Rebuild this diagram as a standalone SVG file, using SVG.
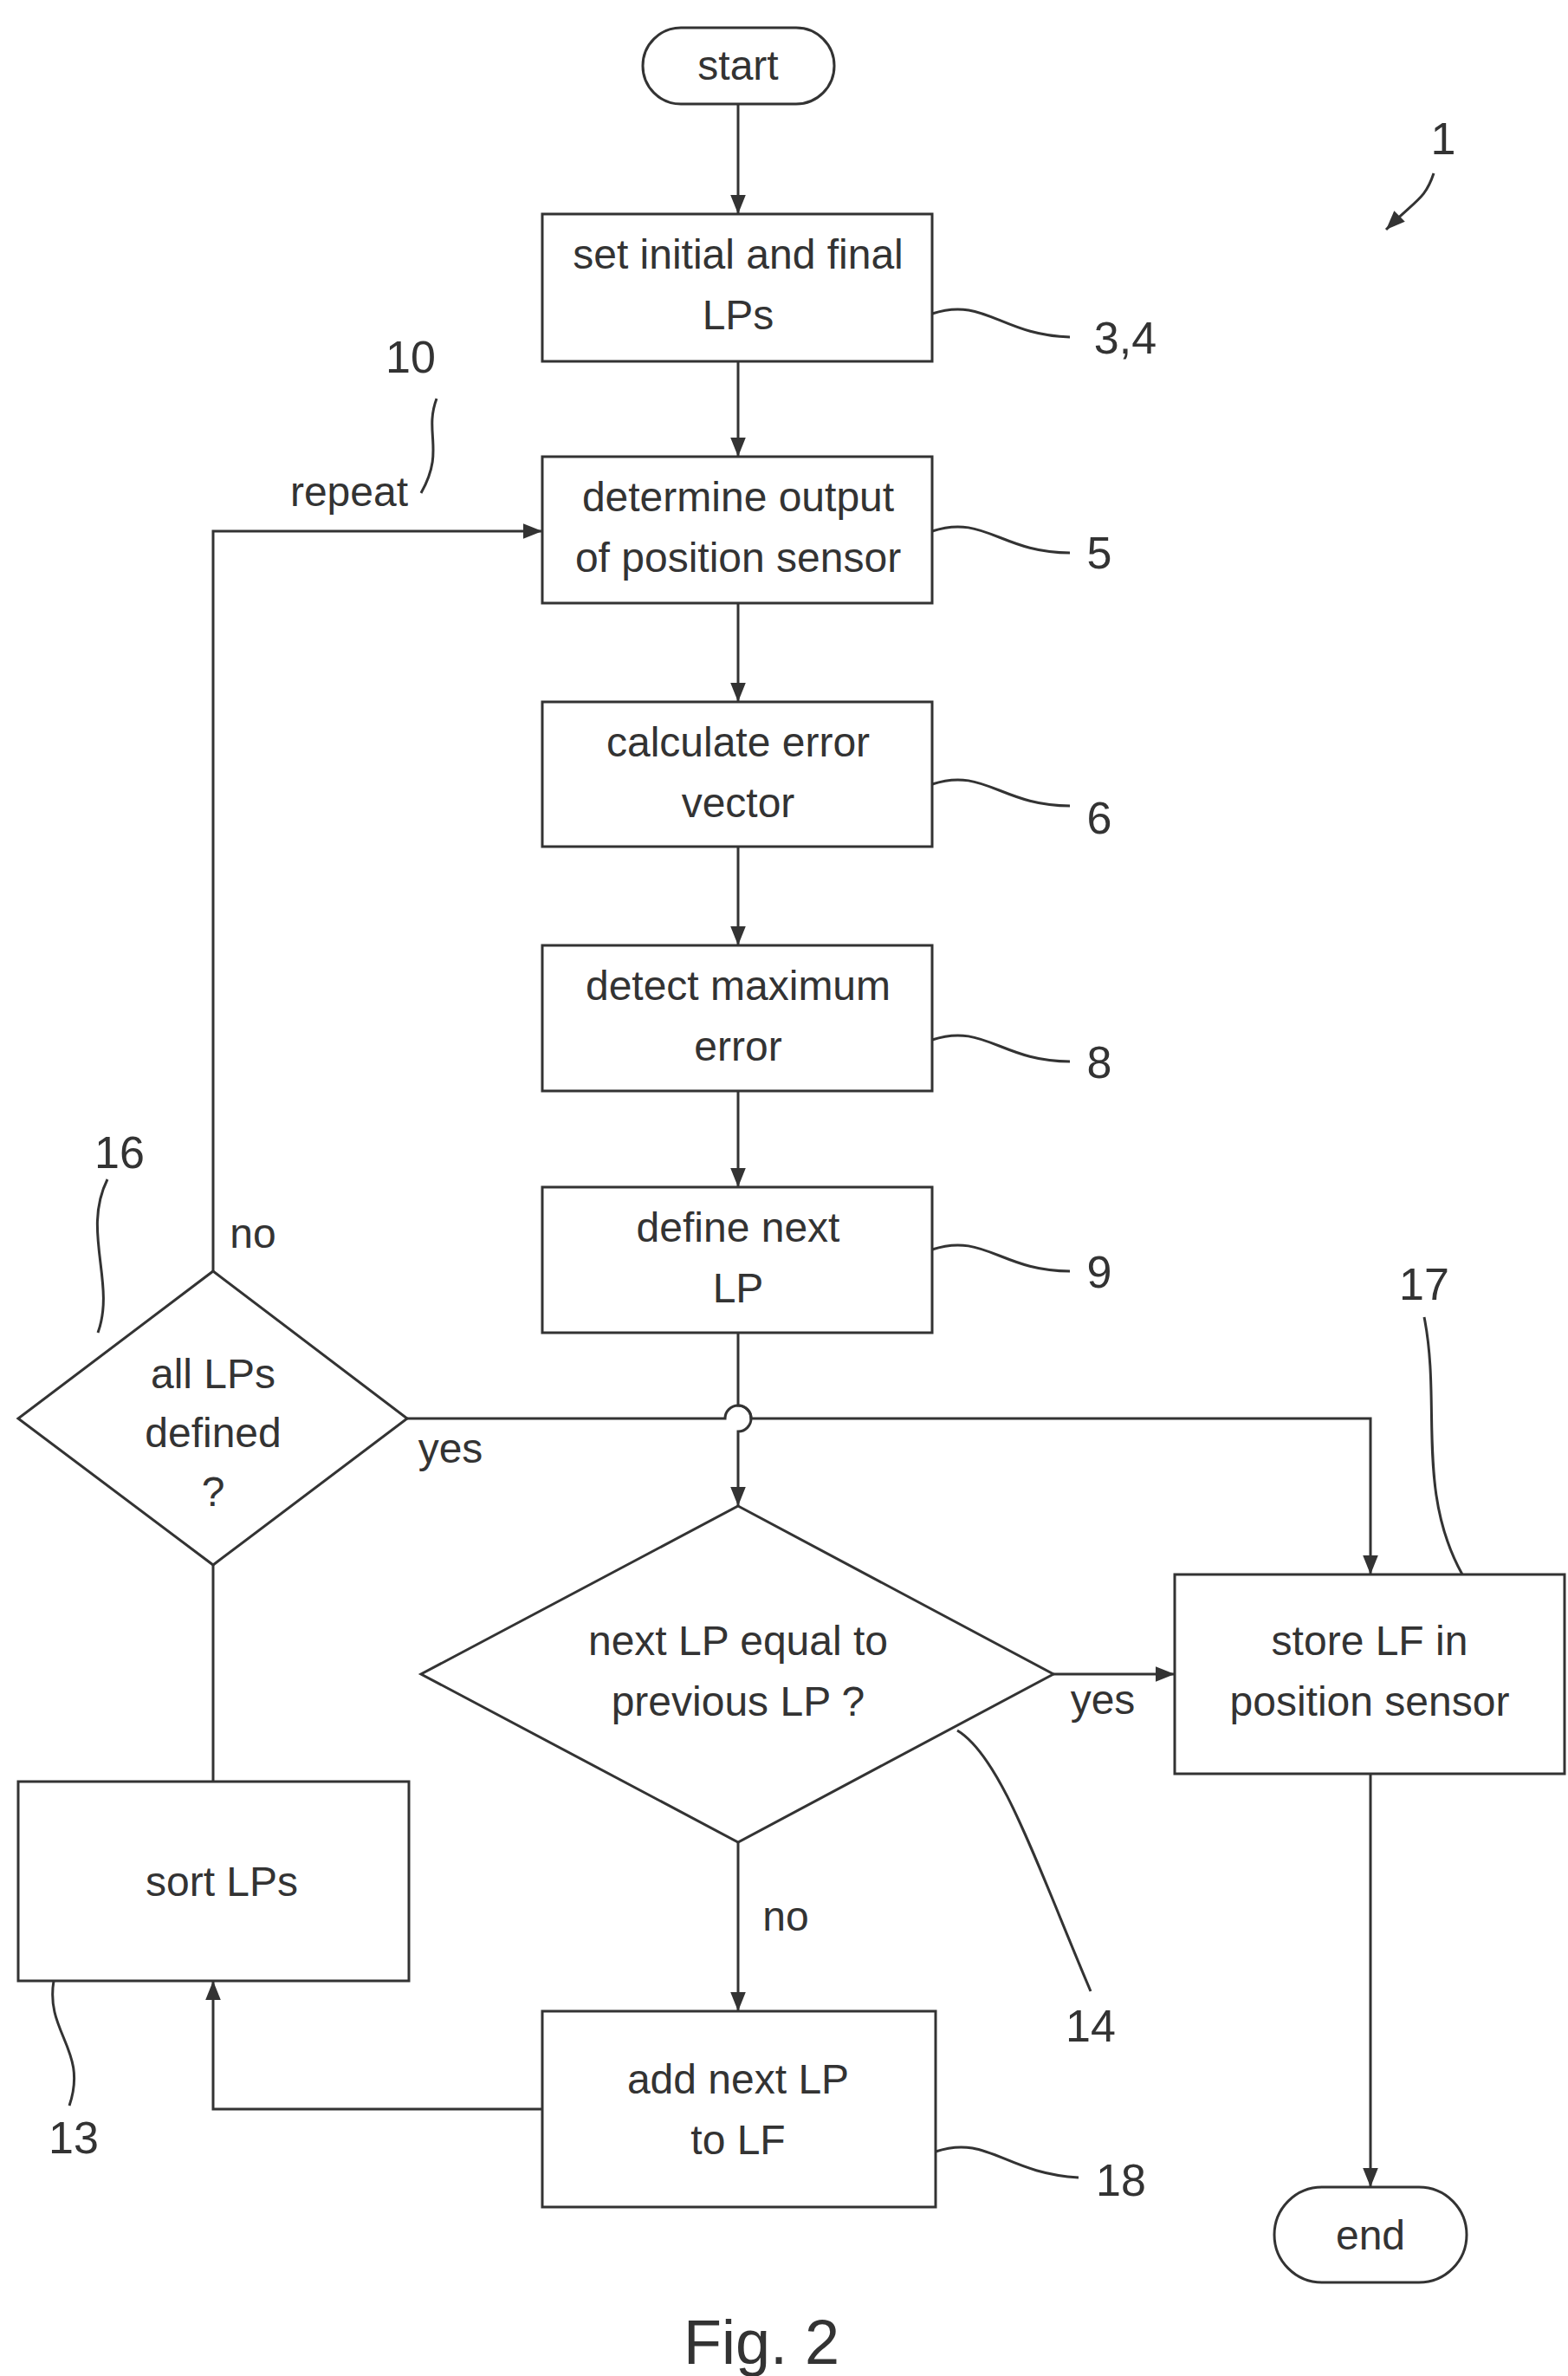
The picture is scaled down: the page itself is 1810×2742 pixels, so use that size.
<svg xmlns="http://www.w3.org/2000/svg" width="1810" height="2742" viewBox="0 0 1810 2742">
<style>
.b{fill:#fff;stroke:#333;stroke-width:3}
.c{fill:none;stroke:#333;stroke-width:3}
.t{font-family:"Liberation Sans",Arial,sans-serif;font-size:48px;fill:#333;text-anchor:middle}
.n{font-family:"Liberation Sans",Arial,sans-serif;font-size:52px;fill:#333;text-anchor:middle}
</style>
<defs><marker id="a" viewBox="0 0 10 10" refX="10" refY="5" markerWidth="9" markerHeight="9" markerUnits="userSpaceOnUse" orient="auto"><path d="M0,0L10,5L0,10z" fill="#333"/></marker>
<marker id="A" viewBox="0 0 10 10" refX="10" refY="5" markerWidth="22" markerHeight="22" markerUnits="userSpaceOnUse" orient="auto"><path d="M0,1L10,5L0,9z" fill="#333"/></marker></defs>
<g id="connectors" class="c" marker-end="url(#A)">
<path d="M852,120V247"/><path d="M852,417V527"/><path d="M852,696V810"/><path d="M852,977V1091"/><path d="M852,1259V1370"/>
<path d="M852,1538V1622a15,15 0 0 1 0,30V1738"/>
<path d="M470,1637H837a15,15 0 0 1 30,0H1582V1817"/>
<path d="M1216,1932H1356"/>
<path d="M1582,2047V2524"/>
<path d="M852,2126V2321"/>
<path d="M626,2434H246V2286"/>
<path d="M246,2056V1806" marker-end="none"/>
<path d="M246,1467V613H626"/>
</g>
<g class="c">
<path d="M1076,362c60,-20 80,25 159,27"/>
<path d="M1076,613c60,-20 80,25 159,25"/>
<path d="M1076,905c60,-20 80,25 159,25"/>
<path d="M1076,1200c60,-20 80,25 159,25"/>
<path d="M1076,1442c60,-20 80,25 159,25"/>
<path d="M1080,2483c60,-20 80,25 165,30"/>
<path d="M504,460c-15,40 10,60 -18,109"/>
<path d="M124,1361c-30,60 10,120 -11,177"/>
<path d="M1644,1520c20,100 -10,200 44,297"/>
<path d="M1105,1997c50,30 90,150 154,301"/>
<path d="M62,2286c-10,60 40,80 18,144"/>
<path d="M1655,200c-10,30 -20,30 -55,65" marker-end="url(#A)"/>
</g>
<g id="start"><rect class="b" x="742" y="32" width="221" height="88" rx="44"/><text class="t" x="852" y="92">start</text></g>
<g id="n34"><rect class="b" x="626" y="247" width="450" height="170"/><text class="t" x="852" y="310">set initial and final</text><text class="t" x="852" y="380">LPs</text></g>
<g id="n5"><rect class="b" x="626" y="527" width="450" height="169"/><text class="t" x="852" y="590">determine output</text><text class="t" x="852" y="660">of position sensor</text></g>
<g id="n6"><rect class="b" x="626" y="810" width="450" height="167"/><text class="t" x="852" y="873">calculate error</text><text class="t" x="852" y="943">vector</text></g>
<g id="n8"><rect class="b" x="626" y="1091" width="450" height="168"/><text class="t" x="852" y="1154">detect maximum</text><text class="t" x="852" y="1224">error</text></g>
<g id="n9"><rect class="b" x="626" y="1370" width="450" height="168"/><text class="t" x="852" y="1433">define next</text><text class="t" x="852" y="1503">LP</text></g>
<g id="n14"><path class="b" d="M852,1738L1216,1932L852,2126L486,1932z"/><text class="t" x="852" y="1910">next LP equal to</text><text class="t" x="852" y="1980">previous LP ?</text></g>
<g id="n17"><rect class="b" x="1356" y="1817" width="450" height="230"/><text class="t" x="1581" y="1910">store LF in</text><text class="t" x="1581" y="1980">position sensor</text></g>
<g id="end"><rect class="b" x="1471" y="2524" width="222" height="110" rx="55"/><text class="t" x="1582" y="2596">end</text></g>
<g id="n18"><rect class="b" x="626" y="2321" width="454" height="226"/><text class="t" x="852" y="2416">add next LP</text><text class="t" x="852" y="2486">to LF</text></g>
<g id="n13"><rect class="b" x="21" y="2056" width="451" height="230"/><text class="t" x="256" y="2188">sort LPs</text></g>
<g id="n16"><path class="b" d="M246,1467L470,1637L246,1806L21,1637z"/><text class="t" x="246" y="1602">all LPs</text><text class="t" x="246" y="1670">defined</text><text class="t" x="246" y="1738">?</text></g>
<g id="labels">
<text class="t" x="403" y="584">repeat</text><text class="t" x="292" y="1440">no</text><text class="t" x="520" y="1688">yes</text>
<text class="t" x="1273" y="1978">yes</text><text class="t" x="907" y="2228">no</text>
<text class="n" x="1299" y="408">3,4</text><text class="n" x="1269" y="656">5</text><text class="n" x="1269" y="962">6</text><text class="n" x="1269" y="1244">8</text><text class="n" x="1269" y="1486">9</text>
<text class="n" x="474" y="430">10</text><text class="n" x="138" y="1348">16</text><text class="n" x="1644" y="1500">17</text><text class="n" x="1259" y="2356">14</text><text class="n" x="85" y="2485">13</text><text class="n" x="1294" y="2534">18</text><text class="n" x="1666" y="178">1</text>
<text class="t" x="879" y="2728" style="font-size:72px">Fig. 2</text>
</g>
</svg>
